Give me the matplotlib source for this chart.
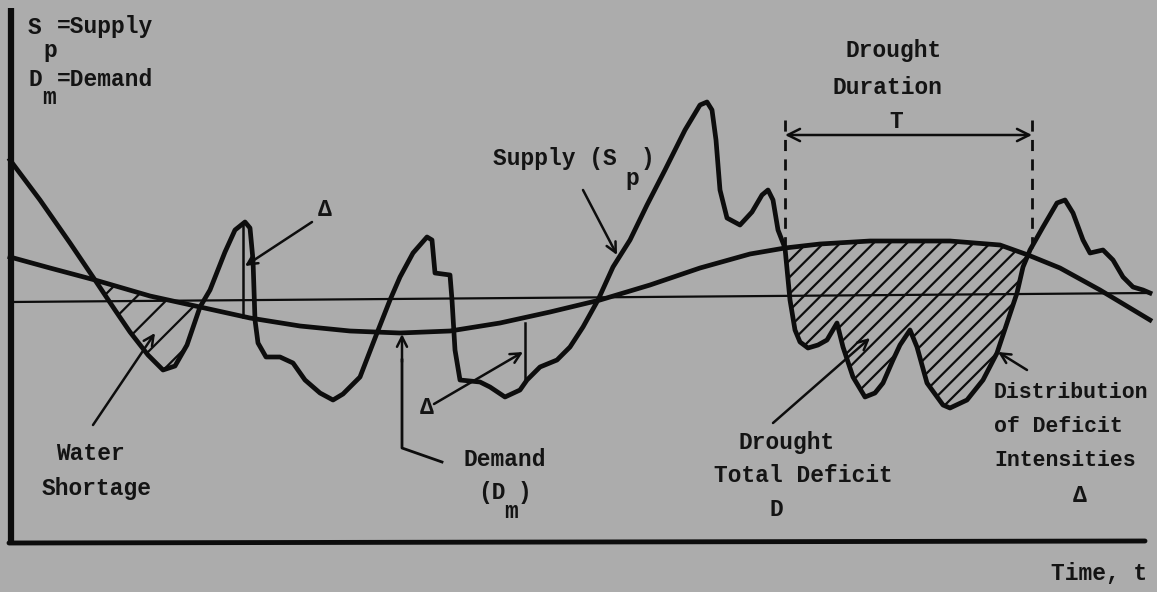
import matplotlib
matplotlib.use('Agg')
import numpy as np
import matplotlib.pyplot as plt

# diagram drawn in pixel-like units (x = time, y grows downwards)
supply_x = [10, 40, 70, 95, 115, 130, 148, 163, 175, 187, 200, 210, 225, 235, 245,
            250, 253, 255, 258, 266, 280, 293, 305, 320, 333, 343, 360, 377, 390,
            400, 413, 427, 432, 435, 450, 452, 455, 460, 480, 490, 505, 520, 527,
            540, 557, 570, 583, 598, 613, 630, 647, 665, 685, 700, 707, 712, 716,
            720, 727, 740, 752, 762, 768, 773, 778, 785, 790, 795, 800, 808, 818,
            827, 837, 843, 853, 865, 875, 883, 893, 900, 910, 917, 927, 943, 950,
            967, 983, 997, 1007, 1017, 1023, 1028, 1030, 1043, 1057, 1065, 1073,
            1083, 1090, 1103, 1113, 1123, 1133, 1143, 1150]
supply_y = [160, 200, 243, 280, 310, 332, 355, 370, 366, 345, 307, 290, 252, 230, 222,
            228, 260, 320, 343, 357, 357, 363, 380, 393, 400, 394, 377, 333, 300,
            277, 253, 237, 240, 273, 275, 300, 350, 380, 382, 387, 397, 390, 380,
            367, 360, 347, 327, 300, 267, 240, 205, 170, 130, 105, 102, 110, 140,
            190, 218, 225, 212, 195, 190, 200, 230, 248, 300, 330, 342, 348, 345,
            340, 323, 347, 377, 397, 393, 383, 360, 345, 330, 347, 383, 405, 408,
            400, 380, 353, 323, 293, 267, 255, 250, 227, 203, 200, 213,
            240, 253, 250, 260, 277, 287, 290, 293]

demand_x = [10, 50, 95, 150, 200, 250, 300, 350, 400, 450, 500, 550, 600, 650, 700,
            750, 785, 820, 870, 950, 1000, 1028, 1060, 1100, 1150]
demand_y = [257, 268, 280, 296, 307, 318, 326, 331, 333, 331, 323, 312, 300, 285, 268,
            254, 248, 244, 241, 241, 245, 255, 268, 290, 320]

threshold_x = [10, 1150]
threshold_y = [302, 293]

shortage_span = (95, 200)
drought_span = (785, 1028)


def deficit_polygon(x0, x1):
    # supply going right, demand coming back left
    pts = [(x, y) for x, y in zip(supply_x, supply_y) if x0 <= x <= x1]
    pts += [(x, y) for x, y in zip(demand_x, demand_y) if x0 <= x <= x1][::-1]
    pts = np.array(pts)
    return pts[:, 0], pts[:, 1]


plt.rcParams['hatch.linewidth'] = 1.6
font = dict(family='Liberation Mono', fontsize=16.5, fontweight='bold', color='#141414')
ink = '#0d0d0d'

fig = plt.figure(figsize=(11.57, 5.92), dpi=100)
fig.patch.set_facecolor('#acacac')
ax = fig.add_axes([0, 0, 1, 1])
ax.set_facecolor('#acacac')
ax.set_xlim(0, 1157)
ax.set_ylim(592, 0)
ax.axis('off')

# frame
ax.plot([11, 11], [8, 543], color=ink, lw=4.5, solid_capstyle='butt')
ax.plot([9, 1145], [543, 541], color=ink, lw=3.5, solid_capstyle='round')

# hatched deficits
for span, hatch in [(shortage_span, '/'), (drought_span, '//')]:
    px, py = deficit_polygon(*span)
    ax.fill(px, py, facecolor='none', edgecolor=ink, hatch=hatch, linewidth=0)

ax.plot(threshold_x, threshold_y, color=ink, lw=1.6)
ax.plot(demand_x, demand_y, color=ink, lw=3.4, solid_joinstyle='round')
ax.plot(supply_x, supply_y, color=ink, lw=3.4, solid_joinstyle='round')

# deficit intensity markers
ax.plot([243, 243], [225, 317], color=ink, lw=1.8)
ax.plot([525, 525], [323, 380], color=ink, lw=1.8)

# drought duration
ax.plot([785, 785], [120, 248], color=ink, lw=2, ls=(0, (4, 3)))
ax.plot([1032, 1032], [120, 254], color=ink, lw=2, ls=(0, (4, 3)))
ax.annotate('', xy=(785, 135), xytext=(1032, 135),
            arrowprops=dict(arrowstyle='<->', lw=1.8, color=ink, mutation_scale=22,
                            shrinkA=0, shrinkB=0))
ax.text(894, 51, 'Drought', ha='center', va='center', **font)
ax.text(888, 87, 'Duration', ha='center', va='center', **font)
ax.text(896, 122, 'T', ha='center', va='center', **font)

# legend text
ax.text(28, 27, 'S', ha='left', va='center', **font)
ax.text(43, 50, 'p', ha='left', va='center', **font)
ax.text(57, 27, '=Supply', ha='left', va='center', **font)
ax.text(28, 79, 'D', ha='left', va='center', **font)
ax.text(42, 98, 'm', ha='left', va='center', **font)
ax.text(57, 79, '=Demand', ha='left', va='center', **font)

arrow = dict(arrowstyle='->', lw=1.8, color=ink, mutation_scale=18, shrinkA=0, shrinkB=0)

# supply label
ax.text(493, 158, 'Supply (S', ha='left', va='center', **font)
ax.text(625, 178, 'p', ha='left', va='center', **font)
ax.text(641, 158, ')', ha='left', va='center', **font)
ax.annotate('', xy=(617, 255), xytext=(583, 190), arrowprops=arrow)

# first delta
ax.text(325, 210, 'Δ', ha='center', va='center', **font)
ax.annotate('', xy=(245, 266), xytext=(312, 222), arrowprops=arrow)

# water shortage
ax.text(90, 454, 'Water', ha='center', va='center', **font)
ax.text(97, 489, 'Shortage', ha='center', va='center', **font)
ax.annotate('', xy=(155, 333), xytext=(93, 425), arrowprops=arrow)

# demand label
ax.text(505, 459, 'Demand', ha='center', va='center', **font)
ax.text(478, 493, '(D', ha='left', va='center', **font)
ax.text(504, 512, 'm', ha='left', va='center', **font)
ax.text(518, 493, ')', ha='left', va='center', **font)
ax.plot([442, 402, 402], [462, 448, 360], color=ink, lw=2)
ax.annotate('', xy=(402, 334), xytext=(402, 362), arrowprops=arrow)

# second delta
ax.text(427, 408, 'Δ', ha='center', va='center', **font)
ax.annotate('', xy=(523, 352), xytext=(434, 404), arrowprops=arrow)

# drought total deficit
ax.text(787, 442, 'Drought', ha='center', va='center', **font)
ax.text(803, 476, 'Total Deficit', ha='center', va='center', **font)
ax.text(776, 510, 'D', ha='center', va='center', **font)
ax.annotate('', xy=(870, 338), xytext=(773, 423), arrowprops=arrow)

# distribution of deficit intensities (slightly smaller so it fits the edge)
small = dict(font, fontsize=15.5)
ax.text(994, 392, 'Distribution', ha='left', va='center', **small)
ax.text(994, 427, 'of Deficit', ha='left', va='center', **small)
ax.text(994, 461, 'Intensities', ha='left', va='center', **small)
ax.text(1080, 495, 'Δ', ha='center', va='center', **font)
ax.annotate('', xy=(998, 352), xytext=(1027, 370), arrowprops=arrow)

ax.text(1147, 573, 'Time, t', ha='right', va='center', **font)

fig.savefig('out.png', dpi=100, facecolor=fig.get_facecolor())
